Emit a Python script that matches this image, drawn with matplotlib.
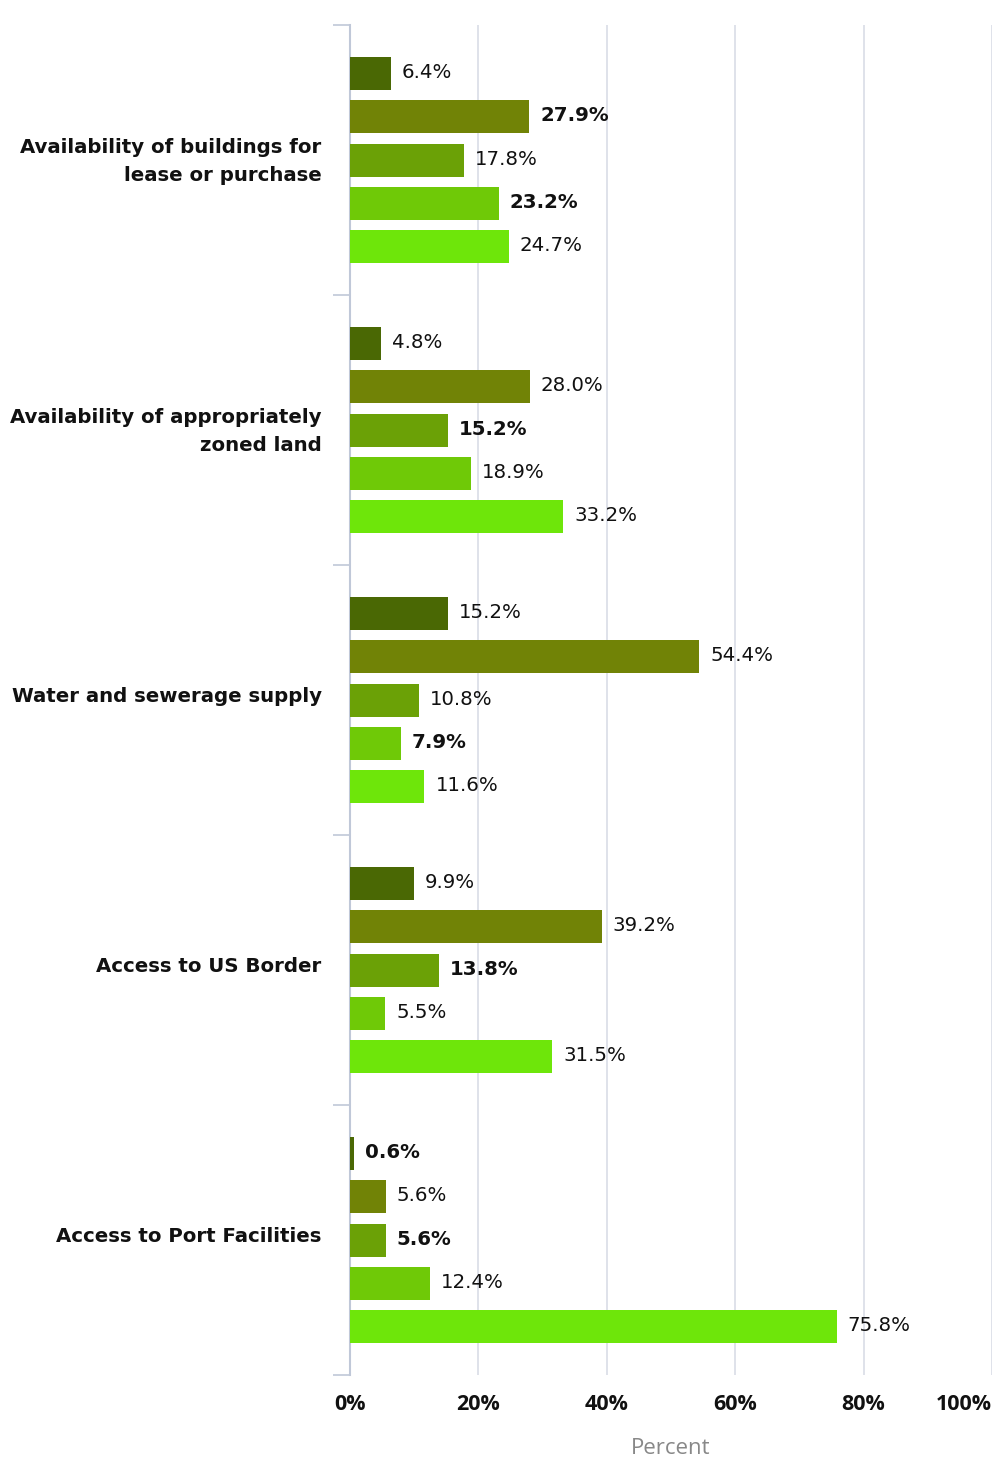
import matplotlib
matplotlib.use("Agg")
import matplotlib.pyplot as plt
import matplotlib.transforms as mtransforms
import numpy as np

categories = [
    "Availability of buildings for\nlease or purchase",
    "Availability of appropriately\nzoned land",
    "Water and sewerage supply",
    "Access to US Border",
    "Access to Port Facilities",
]
# five series per category (top to bottom)
series = [
    [6.4, 4.8, 15.2, 9.9, 0.6],
    [27.9, 28.0, 54.4, 39.2, 5.6],
    [17.8, 15.2, 10.8, 13.8, 5.6],
    [23.2, 18.9, 7.9, 5.5, 12.4],
    [24.7, 33.2, 11.6, 31.5, 75.8],
]
bold_labels = [
    [False, False, False, False, True],
    [True, False, False, False, False],
    [False, True, False, True, True],
    [True, False, True, False, False],
    [False, False, False, False, False],
]
colors = ["#4a6804", "#718306", "#6ba106", "#6fc907", "#6ee60a"]
xticks = [0, 20, 40, 60, 80, 100]
xticklabels = ["0%", "20%", "40%", "60%", "80%", "100%"]

fig = plt.figure(figsize=(9.96, 14.64), dpi=100)
ax = fig.add_axes([350 / 996, 1 - 1375 / 1464, 642 / 996, 1350 / 1464])

n = len(series)
step = 43.4 / 270.0
bh = 33.0 / 270.0
cat_pos = np.arange(len(categories))
for i, vals in enumerate(series):
    ypos = cat_pos + (i - (n - 1) / 2) * step
    ax.barh(ypos, vals, height=bh, color=colors[i], zorder=3)
    for y, v, b in zip(ypos, vals, bold_labels[i]):
        ax.text(v + 1.7, y - 0.003, f"{v:.1f}%", va="center", ha="left",
                fontsize=14.2, fontweight="bold" if b else "normal",
                family="DejaVu Sans", color="#111111", zorder=4)

ax.set_xlim(0, 100)
ax.set_ylim(len(categories) - 0.5, -0.5)
ax.set_xticks(xticks)
ax.set_xticklabels(xticklabels, fontsize=15.5, fontweight="bold", family="Open Sans", color="#111111")
ax.get_xticklabels()[-1].set_horizontalalignment("right")
ax.tick_params(axis="x", length=0, pad=14)
ax.grid(axis="x", color="#dcdfe8", linewidth=1.3, zorder=0)

# category labels at centers, separators as minor ticks
ax.set_yticks(cat_pos)
ax.set_yticklabels(categories, fontsize=14.2, fontweight="bold", family="DejaVu Sans",
                   color="#111111", ha="right", linespacing=1.58)
ax.tick_params(axis="y", which="major", length=0, pad=20.5)
shift = mtransforms.ScaledTranslation(0, 5 / 100, fig.dpi_scale_trans)
for lab in ax.get_yticklabels():
    lab.set_transform(lab.get_transform() + shift)
ax.set_yticks(np.arange(-0.5, len(categories), 1.0), minor=True)
ax.tick_params(axis="y", which="minor", length=12, width=1.2, color="#c0c8d8")

for s in ["top", "right", "bottom"]:
    ax.spines[s].set_visible(False)
ax.spines["left"].set_color("#c0c8d8")
ax.spines["left"].set_linewidth(1.5)

ax.set_xlabel("Percent", fontsize=16, color="#888888", family="Open Sans", labelpad=16)

fig.savefig("out.png", dpi=100)
